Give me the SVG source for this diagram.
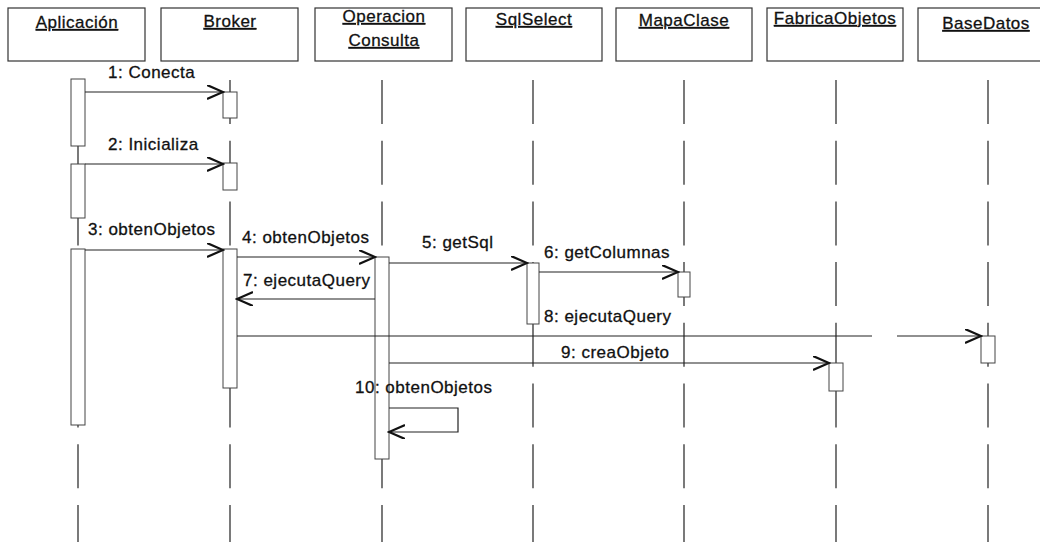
<svg xmlns="http://www.w3.org/2000/svg" width="1040" height="542" viewBox="0 0 1040 542">
  <defs>
    <marker id="open" markerUnits="userSpaceOnUse" markerWidth="18" markerHeight="16" refX="16" refY="7" orient="auto">
      <path d="M0,0 L16,7 L0,14" fill="none" stroke="#111" stroke-width="2.2"/>
    </marker>
    <style>
      .hdr { fill: #fff; stroke: #333; stroke-width: 1.2; }
      .name { font-family: "Liberation Sans", Arial, sans-serif; font-size: 17px; letter-spacing: 0.5px; fill: #111; stroke: #111; stroke-width: 0.3px; text-anchor: middle; text-decoration: underline; }
      .life { stroke: #222; stroke-width: 1.2; stroke-dasharray: 44 16.7; fill: none; }
      .act { fill: #fff; stroke: #444; stroke-width: 1; }
      .msg { stroke: #222; stroke-width: 1.2; fill: none; marker-end: url(#open); }
      .lbl { font-family: "Liberation Sans", Arial, sans-serif; font-size: 17px; letter-spacing: 0.5px; fill: #111; stroke: #111; stroke-width: 0.3px; }
    </style>
  </defs>
  <rect width="1040" height="542" fill="#fff"/>

  <!-- lifelines (dashed) -->
  <g id="lifelines">
    <line class="life" x1="78" y1="80" x2="78" y2="542"/>
    <line class="life" x1="230" y1="80" x2="230" y2="542"/>
    <line class="life" x1="382" y1="80" x2="382" y2="542"/>
    <line class="life" x1="533" y1="80" x2="533" y2="542"/>
    <line class="life" x1="684" y1="80" x2="684" y2="542"/>
    <line class="life" x1="836" y1="80" x2="836" y2="542"/>
    <line class="life" x1="988" y1="80" x2="988" y2="542"/>
  </g>

  <!-- objects -->
  <g id="aplicacion">
    <rect class="hdr" x="8" y="8" width="137" height="53"/>
    <text class="name" x="77" y="28">Aplicación</text>
    <rect class="act" x="71" y="79" width="14" height="67"/>
    <rect class="act" x="71" y="164" width="14" height="54"/>
    <rect class="act" x="71" y="249" width="14" height="176"/>
  </g>
  <g id="broker">
    <rect class="hdr" x="161" y="8" width="137" height="53"/>
    <text class="name" x="230" y="27">Broker</text>
    <rect class="act" x="223" y="92" width="14" height="26"/>
    <rect class="act" x="223" y="163" width="14" height="27"/>
    <rect class="act" x="223" y="249" width="14" height="139"/>
  </g>
  <g id="operacion-consulta">
    <rect class="hdr" x="315" y="8" width="137" height="53"/>
    <text class="name" x="384" y="22">Operacion</text>
    <text class="name" x="384" y="46">Consulta</text>
    <rect class="act" x="375" y="257" width="14" height="202"/>
  </g>
  <g id="sqlselect">
    <rect class="hdr" x="466" y="8" width="136" height="53"/>
    <text class="name" x="534" y="25">SqlSelect</text>
    <rect class="act" x="527" y="263" width="12" height="61"/>
  </g>
  <g id="mapaclase">
    <rect class="hdr" x="616" y="8" width="136" height="53"/>
    <text class="name" x="684" y="26">MapaClase</text>
    <rect class="act" x="678" y="272" width="12" height="25"/>
  </g>
  <g id="fabricaobjetos">
    <rect class="hdr" x="767" y="8" width="136" height="53"/>
    <text class="name" x="835" y="24">FabricaObjetos</text>
    <rect class="act" x="829" y="363" width="14" height="28"/>
  </g>
  <g id="basedatos">
    <rect class="hdr" x="918" y="8" width="137" height="53"/>
    <text class="name" x="986" y="29">BaseDatos</text>
    <rect class="act" x="981" y="336" width="14" height="27"/>
  </g>

  <!-- messages -->
  <g id="connectors">
    <line class="msg" x1="85" y1="92" x2="223" y2="92"/>
    <line class="msg" x1="85" y1="164" x2="223" y2="164"/>
    <line class="msg" x1="85" y1="250" x2="223" y2="250"/>
    <line class="msg" x1="237" y1="257" x2="375" y2="257"/>
    <line class="msg" x1="389" y1="263" x2="527" y2="263"/>
    <line class="msg" x1="539" y1="272" x2="678" y2="272"/>
    <line class="msg" x1="375" y1="299" x2="237" y2="299"/>
    <path class="msg" d="M237,336 H872 M897,336 H981"/>
    <line class="msg" x1="389" y1="363" x2="829" y2="363"/>
    <path class="msg" d="M389,408 H458 V432 H389"/>
  </g>

  <g id="labels">
    <text class="lbl" x="108" y="78">1: Conecta</text>
    <text class="lbl" x="108" y="150">2: Inicializa</text>
    <text class="lbl" x="88" y="235">3: obtenObjetos</text>
    <text class="lbl" x="242" y="243">4: obtenObjetos</text>
    <text class="lbl" x="422" y="248">5: getSql</text>
    <text class="lbl" x="544" y="258">6: getColumnas</text>
    <text class="lbl" x="243" y="286">7: ejecutaQuery</text>
    <text class="lbl" x="544" y="322">8: ejecutaQuery</text>
    <text class="lbl" x="561" y="358">9: creaObjeto</text>
    <text class="lbl" x="355" y="393">10: obtenObjetos</text>
  </g>
</svg>
